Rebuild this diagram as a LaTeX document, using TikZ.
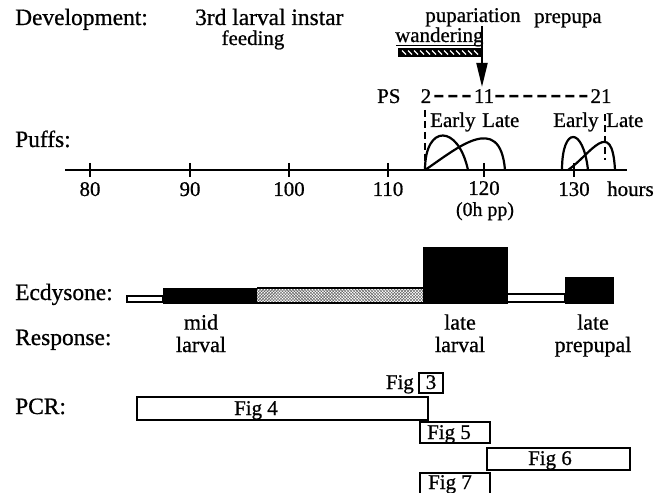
\documentclass[tikz,border=0pt]{standalone}
\usepackage{fontspec}
\setmainfont{Liberation Serif}[FakeBold=0.7]
\usetikzlibrary{patterns,arrows.meta}
\begin{document}
\begin{tikzpicture}[x=1bp,y=-1bp,
  big/.style={font=\fontsize{23.5}{18}\selectfont, inner sep=0pt},
  resp/.style={font=\fontsize{22}{22.5}\selectfont, inner sep=0pt, align=center, anchor=base},
  sml/.style={font=\fontsize{21}{22}\selectfont, inner sep=0pt},
  figbox/.style={draw=black, line width=2bp, fill=white},
  blackbar/.style={fill=black, draw=black, line width=1bp},
  thinbar/.style={fill=white, draw=black, line width=2bp},
  puff/.style={line width=2.2bp},
  vdash/.style={line width=2bp, dash pattern=on 7bp off 4bp},
  hdash/.style={line width=2.5bp, dash pattern=on 9bp off 5bp},
  tick/.style={line width=2bp},
]
\clip (0,0) rectangle (660,493);
\fill[white] (0,0) rectangle (660,493);

% ---------- Development row ----------
\node[big, anchor=base west] (dev) at (15,25) {Development:};
\node[big, anchor=base west] (instar) at (195,25) {3rd larval instar};
\node[sml, anchor=base] (feed) at (253,45) {feeding};
\node[sml, anchor=base] (pup) at (473,22) {pupariation};
\node[sml, anchor=base west] (prep) at (534,23) {prepupa};
\node[sml, anchor=base west] (wand) at (395,42) {wandering};
\draw[line width=0.8bp] (396,45) -- (480,45);
% hatched wandering bar
\fill[black] (398,48) rectangle (482,57);
\foreach \hx in {402,408,...,474}{
  \draw[white, line width=1.3bp] (\hx,50.5) -- (\hx+4,54.5);
}

% PS row
\node[sml, anchor=base west] (ps) at (377,103) {PS};
\node[sml, anchor=base] (n2) at (426,103) {2};
\node[sml, anchor=base] (n11) at (484,103) {11};
\node[sml, anchor=base] (n21) at (601,103) {21};
\draw[hdash] ([xshift=3bp]n2.east) -- ([xshift=-3bp]n11.west);
\draw[hdash] ([xshift=1bp]n11.east) -- ([xshift=-3bp]n21.west);

% pupariation arrow
\coordinate (arrtop) at (482,26);
\draw[line width=2bp, -{Triangle[width=11bp,length=24bp]}] (arrtop) -- ([yshift=2bp]n11.north -| arrtop);

% Early / Late labels
\node[sml, anchor=base west] (e1) at (430,127) {Early};
\node[sml, anchor=base west] (l1) at (482,127) {Late};
\node[sml, anchor=base west] (e2) at (553,127) {Early};
\node[sml, anchor=base west] (l2) at (606,127) {Late};

% ---------- Puffs ----------
\node[big, anchor=base west] (puffs) at (15,147) {Puffs:};
\coordinate (axL) at (65,170);
\coordinate (axR) at (627,170);
\draw[line width=2.5bp] (axL) -- (axR);
\foreach \x/\l in {90/80,190/90,289/100,388/110,574/130}{
  \draw[tick] (\x,163) -- (\x,177);
  \node[sml, anchor=base] (t\l) at (\x,196) {\l};
}
\draw[tick] (484,163) -- (484,177);
\node[sml, anchor=base] (t120) at (484,195) {120};
\node[font=\fontsize{20}{20}\selectfont, inner sep=0pt, anchor=base] (pp) at (485,216) {(0h pp)};
\node[sml, anchor=base west] (hours) at (607,196) {hours};

% dashed verticals
\coordinate (d1top) at (425,110);
\coordinate (d1bot) at (425,170);
\draw[vdash] (d1top) -- (d1bot);
\coordinate (d2top) at (605,114);
\coordinate (d2bot) at (605,160);
\draw[vdash] (d2top) -- (d2bot);

% puff curves
\draw[puff] (425,170) .. controls (425,124) and (458,124) .. (468,170);
\draw[puff] (425,170) .. controls (455,150) and (500,110) .. (505,170);
\draw[puff] (562,170) .. controls (562,126) and (583,126) .. (588,170);
\draw[puff] (568,170) .. controls (590,155) and (612,115) .. (615,170);

% ---------- Ecdysone ----------
\node[big, anchor=base west] (ecd) at (15,300) {Ecdysone:};
\draw[thinbar] (127,296) rectangle (163,302);
\draw[blackbar] (163,288) rectangle (257,303);
\fill[white] (257,288) rectangle (423,303);
\fill[pattern=crosshatch, pattern color=black!65] (257,289) rectangle (423,302);
\draw[line width=1.5bp] (257,288) -- (423,288);
\draw[line width=1.5bp] (257,303) -- (423,303);
\draw[blackbar] (423,247) rectangle (507,303);
\draw[thinbar] (507,294) rectangle (565,302);
\draw[blackbar] (565,277) rectangle (613,303);

% ---------- Response ----------
\node[big, anchor=base west] (resp) at (15,345) {Response:};
\node[resp] (mid) at (201,352) {mid\\larval};
\node[resp] (late1) at (460,352) {late\\larval};
\node[resp] (late2) at (593,352) {late\\prepupal};

% ---------- PCR ----------
\node[big, anchor=base west] (pcr) at (15,414) {PCR:};
\draw[figbox] (137,397) rectangle (428,420);
\node[sml, anchor=base] (f4) at (256,415) {Fig 4};
\draw[figbox] (419,373) rectangle (443,393);
\node[sml, anchor=base] (f3n) at (431,389) {3};
\node[sml, anchor=base east] (f3) at (414,389) {Fig};
\draw[figbox] (420,422) rectangle (490,443);
\node[sml, anchor=base] (f5) at (449,439) {Fig 5};
\draw[figbox] (487,448) rectangle (630,470);
\node[sml, anchor=base] (f6) at (550,465) {Fig 6};
\draw[figbox] (420,473) rectangle (490,498);
\node[sml, anchor=base] (f7) at (450,489) {Fig 7};
\end{tikzpicture}
\end{document}
